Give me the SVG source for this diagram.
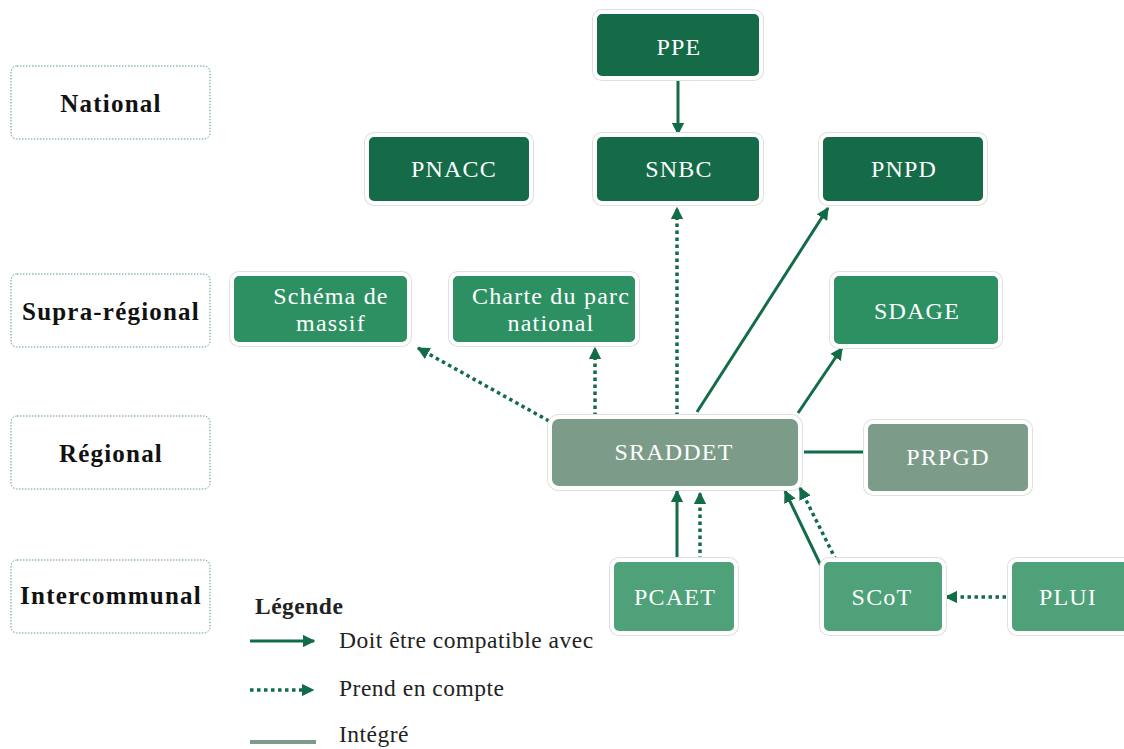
<svg xmlns="http://www.w3.org/2000/svg" width="1124" height="749" viewBox="0 0 1124 749">
  <style>
    .lvl { fill: #ffffff; stroke: #5f9a82; stroke-width: 1; stroke-dasharray: 1.5 1.5; }
    .lvlt { font-family: "Liberation Serif", "DejaVu Serif", serif; font-weight: bold; font-size: 25px; letter-spacing: 1.2px; fill: #111111; text-anchor: middle; }
    .halo { fill: none; stroke: #dde1dd; stroke-width: 6; }
    .box { stroke: #ffffff; stroke-width: 4; }
    .dark { fill: #156a47; }
    .mid { fill: #2d9063; }
    .light { fill: #4ea179; }
    .grey { fill: #7c9c89; }
    .nt { font-family: "Liberation Serif", "DejaVu Serif", serif; font-size: 24px; letter-spacing: 1.2px; fill: #ffffff; text-anchor: middle; }
    .solid { stroke: #126c47; stroke-width: 3; fill: none; }
    .dot { stroke: #126c47; stroke-width: 3.5; stroke-dasharray: 3.5 3.5; fill: none; }
    .lg { font-family: "Liberation Serif", "DejaVu Serif", serif; font-size: 23.5px; letter-spacing: 0.5px; fill: #222222; }
  </style>
  <defs>
    <marker id="ah" viewBox="0 0 10 10" refX="9" refY="5" markerWidth="4.2" markerHeight="4.2" orient="auto" markerUnits="strokeWidth">
      <path d="M0,0 L10,5 L0,10 Z" fill="#126c47"/>
    </marker>
    <marker id="ahd" viewBox="0 0 10 10" refX="9" refY="5" markerWidth="3.6" markerHeight="3.6" orient="auto" markerUnits="strokeWidth">
      <path d="M0,0 L10,5 L0,10 Z" fill="#126c47"/>
    </marker>
  </defs>
  <rect width="1124" height="749" fill="#ffffff"/>

  <!-- level labels -->
  <g id="lvl-national"><rect class="lvl" x="11" y="66" width="199" height="73" rx="6"/><text class="lvlt" x="111" y="112">National</text></g>
  <g id="lvl-supra"><rect class="lvl" x="11" y="274" width="199" height="73" rx="6"/><text class="lvlt" x="111" y="320">Supra-régional</text></g>
  <g id="lvl-regional"><rect class="lvl" x="11" y="416" width="199" height="73" rx="6"/><text class="lvlt" x="111" y="462">Régional</text></g>
  <g id="lvl-inter"><rect class="lvl" x="11" y="560" width="199" height="73" rx="6"/><text class="lvlt" x="111" y="604">Intercommunal</text></g>

  <!-- connectors -->
  <g id="connectors">
    <line class="solid" x1="678" y1="80" x2="678" y2="134" marker-end="url(#ah)"/>
    <line class="dot" x1="677" y1="416" x2="677" y2="208" marker-end="url(#ahd)"/>
    <line class="solid" x1="697" y1="412" x2="828" y2="208" marker-end="url(#ah)"/>
    <line class="dot" x1="549" y1="421" x2="418" y2="348" marker-end="url(#ahd)"/>
    <line class="dot" x1="595" y1="416" x2="595" y2="348" marker-end="url(#ahd)"/>
    <line class="solid" x1="798" y1="413" x2="842" y2="348" marker-end="url(#ah)"/>
    <line class="solid" x1="804" y1="452" x2="864" y2="452"/>
    <line class="solid" x1="677" y1="560" x2="677" y2="491" marker-end="url(#ah)"/>
    <line class="dot" x1="700" y1="560" x2="700" y2="493" marker-end="url(#ahd)"/>
    <line class="solid" x1="823" y1="570" x2="785" y2="491" marker-end="url(#ah)"/>
    <line class="dot" x1="836" y1="560" x2="800" y2="488" marker-end="url(#ahd)"/>
    <line class="dot" x1="1006" y1="597" x2="946" y2="597" marker-end="url(#ahd)"/>
  </g>

  <!-- national -->
  <g id="ppe"><rect class="halo" x="595" y="12" width="166" height="66" rx="7"/><rect class="box dark" x="595" y="12" width="166" height="66" rx="7"/><text class="nt" x="679" y="55">PPE</text></g>
  <g id="snbc"><rect class="halo" x="595" y="135" width="166" height="68" rx="7"/><rect class="box dark" x="595" y="135" width="166" height="68" rx="7"/><text class="nt" x="679" y="177">SNBC</text></g>
  <g id="pnacc"><rect class="halo" x="367" y="135" width="164" height="68" rx="7"/><rect class="box dark" x="367" y="135" width="164" height="68" rx="7"/><text class="nt" x="454" y="177">PNACC</text></g>
  <g id="pnpd"><rect class="halo" x="821" y="135" width="164" height="68" rx="7"/><rect class="box dark" x="821" y="135" width="164" height="68" rx="7"/><text class="nt" x="904" y="177">PNPD</text></g>

  <!-- supra-regional -->
  <g id="schema-massif"><rect class="halo" x="232" y="274" width="177" height="70" rx="7"/><rect class="box mid" x="232" y="274" width="177" height="70" rx="7"/><text class="nt" x="331" y="304">Schéma de</text><text class="nt" x="331" y="331">massif</text></g>
  <g id="charte-parc"><rect class="halo" x="451" y="274" width="186" height="70" rx="7"/><rect class="box mid" x="451" y="274" width="186" height="70" rx="7"/><text class="nt" x="551" y="304">Charte du parc</text><text class="nt" x="551" y="331">national</text></g>
  <g id="sdage"><rect class="halo" x="832" y="274" width="168" height="72" rx="7"/><rect class="box mid" x="832" y="274" width="168" height="72" rx="7"/><text class="nt" x="917" y="319">SDAGE</text></g>

  <!-- regional -->
  <g id="sraddet"><rect class="halo" x="550" y="417" width="250" height="71" rx="9"/><rect class="box grey" x="550" y="417" width="250" height="71" rx="9"/><text class="nt" x="674" y="460">SRADDET</text></g>
  <g id="prpgd"><rect class="halo" x="866" y="422" width="164" height="71" rx="7"/><rect class="box grey" x="866" y="422" width="164" height="71" rx="7"/><text class="nt" x="948" y="465">PRPGD</text></g>

  <!-- intercommunal -->
  <g id="pcaet"><rect class="halo" x="612" y="560" width="124" height="73" rx="7"/><rect class="box light" x="612" y="560" width="124" height="73" rx="7"/><text class="nt" x="675" y="605">PCAET</text></g>
  <g id="scot"><rect class="halo" x="822" y="560" width="122" height="73" rx="7"/><rect class="box light" x="822" y="560" width="122" height="73" rx="7"/><text class="nt" x="882" y="605">SCoT</text></g>
  <g id="plui"><rect class="halo" x="1010" y="560" width="120" height="73" rx="7"/><rect class="box light" x="1010" y="560" width="120" height="73" rx="7"/><text class="nt" x="1068" y="605">PLUI</text></g>

  <!-- legend -->
  <g id="legend">
    <text class="lg" x="255" y="614" font-weight="bold" fill="#111111">Légende</text>
    <line class="solid" x1="250" y1="641" x2="314" y2="641" marker-end="url(#ah)"/>
    <text class="lg" x="339" y="648">Doit être compatible avec</text>
    <line class="dot" x1="250" y1="690" x2="313" y2="690" marker-end="url(#ahd)"/>
    <text class="lg" x="339" y="696">Prend en compte</text>
    <line x1="250" y1="742" x2="316" y2="742" stroke="#7c9c89" stroke-width="4"/>
    <text class="lg" x="339" y="742">Intégré</text>
  </g>
</svg>
